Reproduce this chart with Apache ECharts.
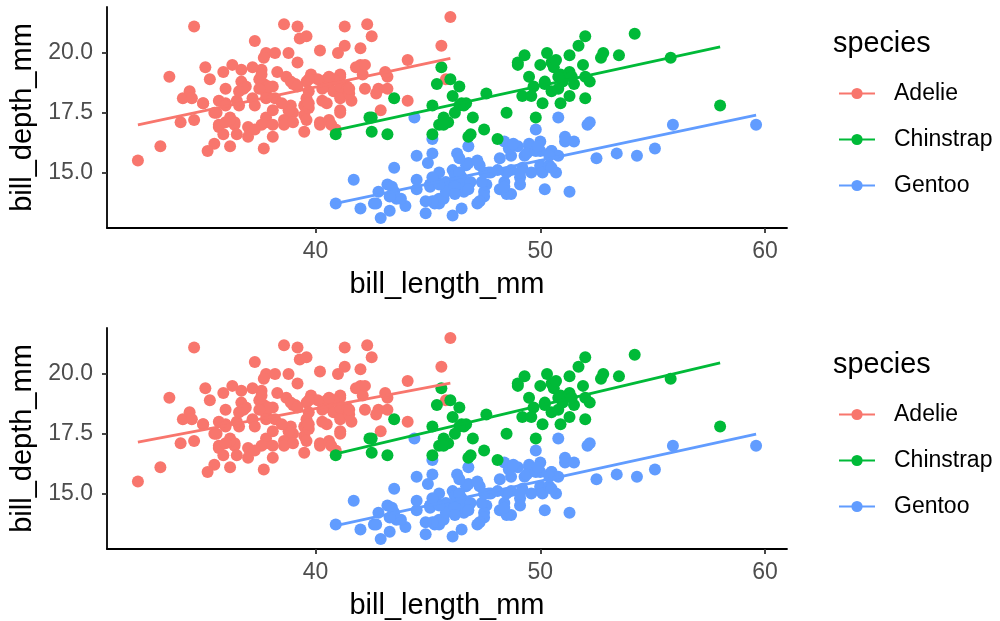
<!DOCTYPE html>
<html><head><meta charset="utf-8">
<script src="https://cdn.jsdelivr.net/npm/echarts@6/dist/echarts.min.js"></script>
<style>html,body{margin:0;padding:0;background:#fff}#c{width:1000px;height:621px}</style>
</head><body><div id="c"></div>
<script>
const species = ['Adelie', 'Chinstrap', 'Gentoo'];
const speciesColors = ['#F8766D', '#00BA38', '#619CFF'];
const xTicks = [40, 50, 60];
const yTicks = [15, 17.5, 20];

const adelie = [[39.1,18.7],[39.5,17.4],[40.3,18.0],[36.7,19.3],[39.3,20.6],[38.9,17.8],[39.2,19.6],[34.1,18.1],[42.0,20.2],[37.8,17.1],[37.8,17.3],[41.1,17.6],[38.6,21.2],[34.6,21.1],[36.6,17.8],[38.7,19.0],[42.5,20.7],[34.4,18.4],[46.0,21.5],[37.8,18.3],[37.7,18.7],[35.9,19.2],[38.2,18.1],[38.8,17.2],[35.3,18.9],[40.6,18.6],[40.5,17.9],[37.9,18.6],[40.5,18.9],[39.5,16.7],[37.2,18.1],[39.5,17.8],[40.9,18.9],[36.4,17.0],[39.2,21.1],[38.8,20.0],[42.2,18.5],[37.6,19.3],[39.8,19.1],[36.5,18.0],[40.8,18.4],[36.0,18.5],[44.1,19.7],[37.0,16.9],[39.6,18.8],[41.1,19.0],[37.5,18.9],[36.0,17.9],[42.3,21.2],[39.6,17.7],[40.1,18.9],[35.0,17.9],[42.0,19.5],[34.5,18.1],[41.4,18.6],[39.0,17.5],[40.6,18.8],[36.5,16.6],[37.6,19.1],[35.7,16.9],[41.3,21.1],[37.6,17.0],[41.1,18.2],[36.4,17.1],[41.6,18.0],[35.5,16.2],[41.1,19.1],[35.9,16.6],[41.8,19.4],[33.5,19.0],[39.7,18.4],[39.6,17.2],[45.8,18.9],[35.5,17.5],[42.8,18.5],[40.9,16.8],[37.2,19.4],[36.2,16.1],[42.1,19.1],[34.6,17.2],[42.9,17.6],[36.7,18.8],[35.1,19.4],[37.3,17.8],[41.3,20.3],[36.3,19.5],[36.9,18.6],[38.3,19.2],[38.9,18.8],[35.7,18.0],[41.1,18.1],[34.0,17.1],[39.6,18.1],[36.2,17.3],[40.8,18.9],[38.1,18.6],[40.3,18.5],[33.1,16.1],[43.2,18.5],[35.0,17.9],[41.0,20.0],[37.7,16.0],[37.8,20.0],[37.9,18.6],[39.7,18.9],[38.6,17.2],[38.2,20.0],[38.1,17.0],[43.2,19.0],[38.1,16.5],[45.6,20.3],[39.7,17.7],[42.2,19.5],[39.6,20.7],[42.7,18.3],[38.6,17.0],[37.3,20.5],[35.7,17.0],[41.1,18.6],[36.2,17.2],[37.7,19.8],[40.2,17.0],[41.4,18.5],[35.2,15.9],[40.6,19.0],[38.8,17.6],[41.5,18.3],[39.0,17.1],[44.1,18.0],[38.5,17.9],[43.1,19.2],[36.8,18.5],[37.5,18.5],[38.1,17.6],[41.1,17.5],[35.6,17.5],[40.2,20.1],[37.0,16.5],[39.7,17.9],[40.2,17.1],[40.6,17.2],[32.1,15.5],[40.7,17.0],[37.3,16.8],[39.0,18.7],[39.2,18.6],[36.6,18.4],[36.0,17.8],[37.8,18.1],[36.0,17.1],[41.5,18.5]];

const gentoo = [[46.1,13.2],[50.0,16.3],[48.7,14.1],[50.0,15.2],[47.6,14.5],[46.5,13.5],[45.4,14.6],[46.7,15.3],[43.3,13.4],[46.8,15.4],[40.9,13.7],[49.0,16.1],[45.5,13.7],[48.4,14.6],[45.8,14.6],[49.3,15.7],[42.0,13.5],[49.2,15.2],[46.2,14.5],[48.7,15.1],[50.2,14.3],[45.1,14.5],[46.5,14.5],[46.3,15.8],[42.9,13.1],[46.1,15.1],[44.5,14.3],[47.8,15.0],[48.2,14.3],[50.0,15.3],[47.3,15.3],[42.8,14.2],[45.1,14.5],[59.6,17.0],[49.1,14.8],[48.4,16.3],[42.6,13.7],[44.4,17.3],[44.0,13.6],[48.7,15.7],[42.7,13.7],[49.6,16.0],[45.3,13.7],[49.6,15.0],[50.5,15.9],[43.6,13.9],[45.5,13.9],[50.5,15.9],[44.9,13.3],[45.2,15.8],[46.6,14.2],[48.5,14.1],[45.1,14.4],[50.1,15.0],[46.5,14.4],[45.0,15.4],[43.8,13.9],[45.5,15.0],[43.2,14.5],[50.4,15.3],[45.3,13.8],[46.2,14.9],[45.7,13.9],[54.3,15.7],[45.8,14.2],[49.8,16.8],[46.2,14.4],[49.5,16.2],[43.5,14.2],[50.7,15.0],[47.7,15.0],[46.4,15.6],[48.2,15.6],[46.5,14.8],[46.4,15.0],[48.6,16.0],[47.5,14.2],[51.1,16.3],[45.2,13.8],[45.2,16.4],[49.1,14.5],[52.5,15.6],[47.4,14.6],[50.0,15.9],[44.9,13.8],[50.8,17.3],[43.4,14.4],[51.3,14.2],[47.5,14.0],[52.1,17.0],[47.5,15.0],[52.2,17.1],[45.5,14.5],[49.5,16.1],[44.5,14.7],[50.8,15.7],[49.4,15.8],[46.9,14.6],[48.4,14.4],[51.1,16.5],[48.5,15.0],[55.9,17.0],[47.2,15.5],[49.1,15.0],[47.3,13.8],[46.8,16.1],[41.7,14.7],[53.4,15.8],[43.3,14.0],[48.1,15.1],[50.5,15.2],[49.8,15.9],[43.5,15.2],[51.5,16.3],[46.2,14.1],[55.1,16.0],[44.5,15.7],[48.8,16.2],[47.2,13.7],[46.8,14.3],[50.4,15.7],[45.2,14.8],[49.9,16.1]];

const chinstrap = [[46.5,17.9],[50.0,19.5],[51.3,19.2],[45.4,18.7],[52.7,19.8],[45.2,17.8],[46.1,18.2],[51.3,18.2],[46.0,18.9],[51.3,19.9],[46.6,17.8],[51.7,20.3],[47.0,17.3],[52.0,18.1],[45.9,17.1],[50.5,19.6],[50.3,20.0],[58.0,17.8],[46.4,18.6],[49.2,18.2],[42.4,17.3],[48.5,17.5],[43.2,16.6],[50.6,19.4],[46.7,17.9],[52.0,19.0],[50.5,18.4],[49.5,19.0],[46.4,17.8],[52.8,20.0],[40.9,16.6],[54.2,20.8],[42.5,16.7],[51.0,18.8],[49.7,18.6],[47.5,16.8],[47.6,18.3],[52.0,20.7],[46.9,16.6],[53.5,19.9],[49.0,19.5],[46.2,17.5],[50.9,19.1],[45.5,17.0],[50.9,17.9],[50.8,18.5],[50.1,17.9],[49.0,19.6],[51.5,18.7],[49.8,17.3],[48.1,16.4],[51.4,19.0],[45.7,17.3],[50.7,19.7],[42.5,17.3],[52.2,18.8],[45.2,16.6],[49.3,19.9],[50.2,18.8],[45.6,19.4],[51.9,19.5],[46.8,16.5],[45.7,17.0],[55.8,19.8],[43.5,18.1],[49.6,18.2],[50.8,19.0],[50.2,18.7]];

// fitted lines (endpoints)
const fitTopAdelie = [[32.1,16.99],[46.0,19.77]];
const fitTopChinstrap = [[40.9,16.77],[58.0,20.25]];
const fitTopGentoo = [[40.9,13.71],[59.6,17.40]];
const fitBotAdelie = [[32.1,17.15],[46.0,19.62]];
const fitBotChinstrap = [[40.9,16.66],[58.0,20.46]];
const fitBotGentoo = [[40.9,13.66],[59.6,17.48]];

const FONT = '"Liberation Sans", Arial, Helvetica, sans-serif';
const all = adelie.concat(chinstrap, gentoo);
const xs = all.map(d => d[0]), ys = all.map(d => d[1]);
const xMinD = Math.min(...xs), xMaxD = Math.max(...xs);
const yMinD = Math.min(...ys), yMaxD = Math.max(...ys);
const xPad = (xMaxD - xMinD) * 0.05, yPad = (yMaxD - yMinD) * 0.05;

const panels = [{top: 7, fits: [fitTopAdelie, fitTopChinstrap, fitTopGentoo]},
                {top: 328, fits: [fitBotAdelie, fitBotChinstrap, fitBotGentoo]}];
const points = {Adelie: adelie, Chinstrap: chinstrap, Gentoo: gentoo};
const drawOrder = ['Adelie', 'Gentoo', 'Chinstrap'];

const grid = [], xAxis = [], yAxis = [], series = [], legend = [], title = [];
panels.forEach((p, i) => {
  grid.push({left: 107, top: p.top, width: 680, height: 221, containLabel: false});
  xAxis.push({
    type: 'value', gridIndex: i, min: xMinD - xPad, max: xMaxD + xPad,
    name: 'bill_length_mm', nameLocation: 'middle', nameGap: 42,
    nameTextStyle: {fontSize: 29, color: '#000', fontFamily: FONT},
    axisLine: {show: true, onZero: false, lineStyle: {color: '#000', width: 1.8}},
    axisTick: {show: true, length: 5, customValues: xTicks, lineStyle: {color: '#333', width: 1.8}},
    axisLabel: {customValues: xTicks, fontSize: 23, color: '#4D4D4D', margin: 12, fontFamily: FONT},
    splitLine: {show: false}
  });
  yAxis.push({
    type: 'value', gridIndex: i, min: yMinD - yPad, max: yMaxD + yPad,
    name: 'bill_depth_mm', nameLocation: 'middle', nameGap: 65, nameRotate: 90,
    nameTextStyle: {fontSize: 29, color: '#000', fontFamily: FONT},
    axisLine: {show: true, onZero: false, lineStyle: {color: '#000', width: 1.8}},
    axisTick: {show: true, length: 5, customValues: yTicks, lineStyle: {color: '#333', width: 1.8}},
    axisLabel: {customValues: yTicks, fontSize: 23, color: '#4D4D4D', margin: 14, fontFamily: FONT,
                formatter: v => Number(v).toFixed(1)},
    splitLine: {show: false}
  });
  species.forEach((s, k) => {
    series.push({
      type: 'line', name: s, xAxisIndex: i, yAxisIndex: i, data: p.fits[k],
      showSymbol: false, symbol: 'circle', symbolSize: 13, z: 4, silent: true,
      lineStyle: {color: speciesColors[k], width: 2.8},
      itemStyle: {color: speciesColors[k]}
    });
  });
  drawOrder.forEach(s => {
    const k = species.indexOf(s);
    series.push({
      type: 'scatter', name: s, xAxisIndex: i, yAxisIndex: i, data: points[s],
      symbol: 'circle', symbolSize: 12, z: 3, silent: true,
      itemStyle: {color: speciesColors[k], opacity: 1}
    });
  });
  legend.push({
    orient: 'vertical', left: 838, top: p.top + 75, padding: 0,
    itemWidth: 36, itemHeight: 14, itemGap: 23, selectedMode: false,
    data: species,
    textStyle: {fontSize: 23, color: '#000', fontFamily: FONT, padding: [0, 0, 0, 14]}
  });
  title.push({
    text: 'species', left: 833, top: p.top + 23, padding: 0,
    textStyle: {fontSize: 28.8, fontWeight: 'normal', color: '#000', fontFamily: FONT}
  });
});

const chart = echarts.init(document.getElementById('c'), null, {renderer: 'canvas'});
chart.setOption({animation: false, backgroundColor: '#fff', title, grid, xAxis, yAxis, legend, series});
</script></body></html>
